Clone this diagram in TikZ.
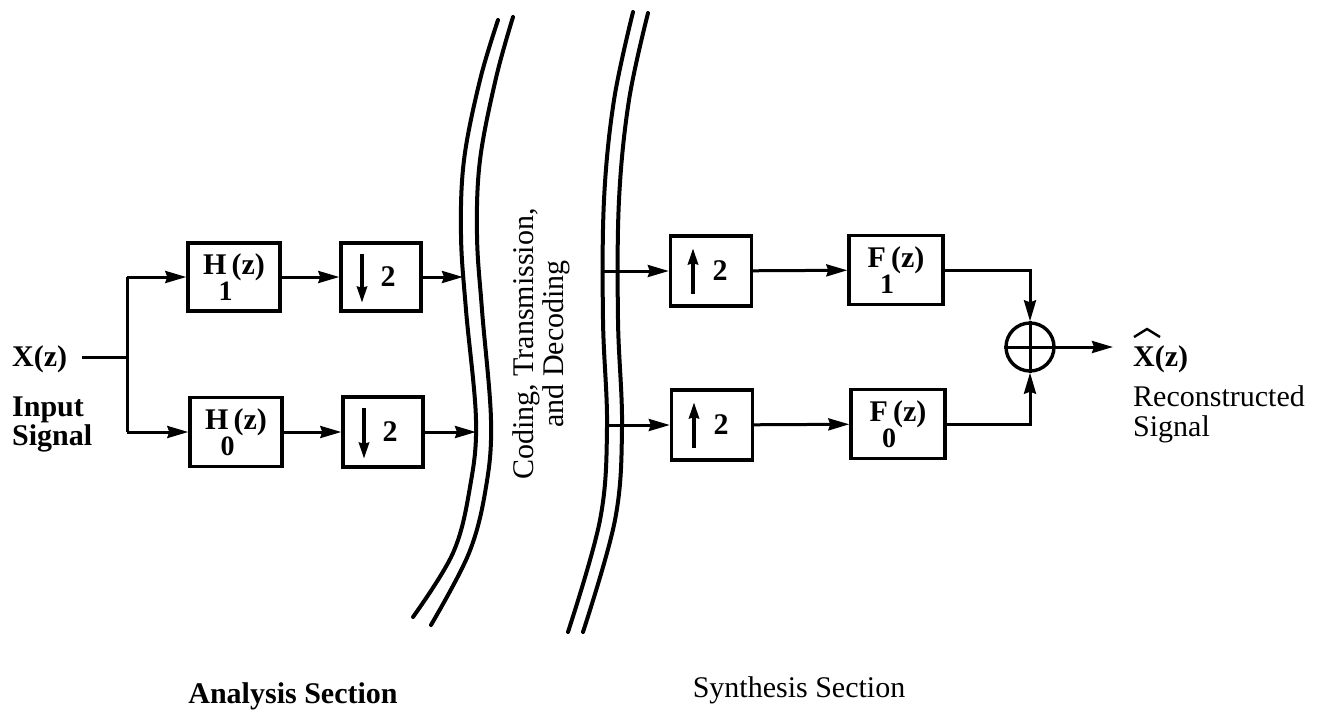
\documentclass[tikz,border=0pt]{standalone}
\usepackage{fontspec}
\setmainfont{Liberation Serif}
\usetikzlibrary{arrows.meta,calc}
\newcommand\lowsub[2][-8pt]{\rlap{\kern#1\raisebox{-26pt}{\fontsize{28}{28}\selectfont #2}}\kern5pt}
\begin{document}
\begin{tikzpicture}[x=1pt,y=-1pt,
  every node/.style={font=\fontsize{30}{30}\selectfont, inner sep=0pt},
  bf/.style={font=\fontsize{30}{30}\selectfont\bfseries},
  blk/.style={draw, line width=3.4pt, minimum height=68pt, bf},
  wire/.style={line width=3pt},
  sig/.style={line width=3pt, -{Stealth[length=21pt,width=12pt,inset=2pt]}},
  glyph/.style={line width=3.4pt, -{Stealth[length=16pt,width=10pt,inset=1pt]}},
  chan/.style={line width=4pt, line cap=round},
]
\useasboundingbox (0,0) rectangle (1327,713);

% input
\node[anchor=base west, bf] (xin) at (12,366) {X(z)};
\node[anchor=north west, align=left, font=\fontsize{30}{22}\selectfont\bfseries] (inlab) at (12,397) {Input\\Signal};
\coordinate (br) at (127,357);
\coordinate (brt) at (127,277);
\coordinate (brb) at (127,432);

% analysis
\node[blk, minimum width=92pt] (H1) at (234,277) {H\lowsub{1}(z)};
\node[blk, minimum width=92pt, minimum height=69pt] (H0) at (236,432) {H\lowsub{0}(z)};
\node[blk, minimum width=80pt] (d1) at (381,277) {\hspace*{14pt}2};
\node[blk, minimum width=80pt, minimum height=70pt] (d2) at (383,432) {\hspace*{14pt}2};
\draw[glyph] ([xshift=-19pt,yshift=-13pt]d1.north) -- ([xshift=-19pt,yshift=10pt]d1.south);
\draw[glyph] ([xshift=-19pt,yshift=-13pt]d2.north) -- ([xshift=-19pt,yshift=10pt]d2.south);

\draw[wire] ([xshift=15pt]xin.east |- br) -- (br);
\draw[wire] (brt) -- (brb);
\draw[sig] (brt) -- (H1.west);
\draw[sig] (brb) -- (H0.west);
\draw[sig] (H1) -- (d1);
\draw[sig] (H0) -- (d2);

% channel
\coordinate (ca1) at (463,277);
\coordinate (ca2) at (476,432);
\coordinate (cs1) at (604,271);
\coordinate (cs2) at (607,425);
\draw[chan] plot[smooth, tension=0.6] coordinates {(498,20) (480,80) (464,160) (461,235) (466,310) (476,420) (470,487) (453,553) (413,617)};
\draw[chan] plot[smooth, tension=0.6] coordinates {(513,17) (496,78) (480,160) (477,235) (482,310) (491,420) (486,487) (469,553) (431,625)};
\draw[chan] plot[smooth, tension=0.6] coordinates {(633,12) (614,100) (604,200) (603,320) (607,427) (600,520) (568,632)};
\draw[chan] plot[smooth, tension=0.6] coordinates {(648,13) (629,100) (619,200) (618,320) (622,427) (615,520) (583,632)};
\node[rotate=90, align=center] (chtxt) at (541,344) {Coding, Transmission,\\and Decoding};
\draw[sig] (d1.east) -- (ca1);
\draw[sig] (d2.east) -- (ca2);

% synthesis
\node[blk, minimum width=81pt, minimum height=70pt] (u1) at (711,271) {\hspace*{18pt}2};
\node[blk, minimum width=81pt, minimum height=70pt] (u2) at (712,425) {\hspace*{18pt}2};
\draw[glyph] ([xshift=-18pt,yshift=14pt]u1.south) -- ([xshift=-18pt,yshift=-14pt]u1.north);
\draw[glyph] ([xshift=-18pt,yshift=14pt]u2.south) -- ([xshift=-18pt,yshift=-14pt]u2.north);
\node[blk, minimum width=94pt, minimum height=69pt] (F1) at (896,270) {F\lowsub[-6pt]{1}(z)};
\node[blk, minimum width=94pt, minimum height=69pt] (F0) at (898,424) {F\lowsub[-6pt]{0}(z)};
\node[circle, draw, line width=3.4pt, minimum size=48pt] (sum) at (1030,347) {};
\draw[wire] (sum.north) -- (sum.south);
\draw[wire] (sum.west) -- (sum.east);

\draw[sig] (cs1) -- (u1.west);
\draw[sig] (cs2) -- (u2.west);
\draw[sig] (u1) -- (F1);
\draw[sig] (u2) -- (F0);
\draw[sig] (F1.east) -| (sum.north);
\draw[sig] (F0.east) -| (sum.south);

\node[anchor=base west, bf] (xhat) at (1133,366) {X(z)};
\draw[line width=2.4pt, line join=miter] ($(xhat.base west)+(1,-29)$) -- ($(xhat.base west)+(14,-37)$) -- ($(xhat.base west)+(27,-29)$);
\draw[sig] (sum.east) -- ([xshift=-20pt]xhat.west |- sum);
\node[anchor=north west, align=left] (rlab) at (1133,385) {Reconstructed\\Signal};

% section labels
\node[anchor=base, bf] (ana) at (293,703) {Analysis Section};
\node[anchor=base] (syn) at (799,697) {Synthesis Section};
\end{tikzpicture}
\end{document}
